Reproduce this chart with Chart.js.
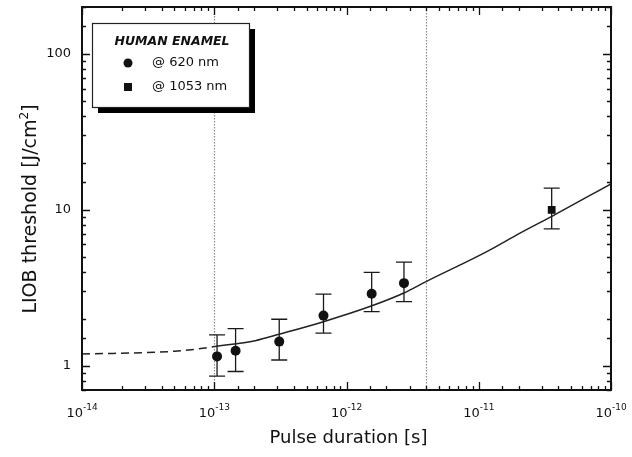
<!DOCTYPE html>
<html>
<head>
<meta charset="utf-8">
<script src="https://cdn.jsdelivr.net/npm/chart.js@4.4.0/dist/chart.umd.min.js"></script>
<style>
html, body { margin: 0; padding: 0; background: #fff; }
#wrap { width: 632px; height: 457px; position: relative; }
</style>
</head>
<body>
<div id="wrap"><canvas id="myChart"></canvas></div>
<script>
// measured thresholds @ 620 nm (value, upper and lower end of error bar)
var pulse620 = [1.05e-13, 1.45e-13, 3.1e-13, 6.7e-13, 1.55e-12, 2.72e-12];
var thr620 = [1.15, 1.25, 1.43, 2.10, 2.90, 3.39];
var thr620Hi = [1.58, 1.73, 1.99, 2.88, 3.98, 4.62];
var thr620Lo = [0.86, 0.92, 1.09, 1.62, 2.23, 2.58];

// measured threshold @ 1053 nm
var pulse1053 = [3.56e-11];
var thr1053 = [10.0];
var thr1053Hi = [13.8];
var thr1053Lo = [7.55];

// fitted curve (dashed part is extrapolation)
var fitDashX = [1e-14, 5e-14, 8.5e-14, 1e-13];
var fitDashY = [1.19, 1.24, 1.30, 1.33];
var fitX = [1e-13, 2.04e-13, 3.14e-13, 6.7e-13, 1.5e-12, 2.69e-12, 4e-12, 1.15e-11, 2.05e-11, 3.66e-11, 1e-10];
var fitY = [1.33, 1.45, 1.60, 1.92, 2.40, 2.92, 3.47, 5.4, 7.1, 9.2, 14.7];

// dotted vertical markers
var markLines = [1e-13, 4e-12];

// labelled decades
var xDecades = [-14, -13, -12, -11, -10];
var yDecades = [0, 1, 2];

var ctx = document.getElementById('myChart');
var myChart;
var FONT = '"DejaVu Sans", "Liberation Sans", sans-serif';

function toPoints(xs, ys){
    var out = [];
    for(var i = 0; i < xs.length; i++){
        out.push({x: xs[i], y: ys[i]});
    }
    return out;
}

function isDecade(v){
    var l = Math.log10(v);
    return Math.abs(l - Math.round(l)) < 1e-6;
}

function drawErrors(c, xs, ys, px, hi, lo){
    for(var i = 0; i < px.length; i++){
        var x = xs.getPixelForValue(px[i]);
        var yh = ys.getPixelForValue(hi[i]);
        var yl = ys.getPixelForValue(lo[i]);
        c.beginPath();
        c.moveTo(x, yh); c.lineTo(x, yl);
        c.moveTo(x - 8, yh); c.lineTo(x + 8, yh);
        c.moveTo(x - 8, yl); c.lineTo(x + 8, yl);
        c.stroke();
    }
}

var paperPlugin = {
    id: 'paper',
    beforeDatasetsDraw: function(chart){
        var c = chart.ctx, xs = chart.scales.x, ys = chart.scales.y, a = chart.chartArea;
        c.save();
        c.strokeStyle = '#8c8c8c';
        c.lineWidth = 1.2;
        c.setLineDash([1.5, 1.5]);
        markLines.forEach(function(v){
            var px = Math.round(xs.getPixelForValue(v)) + 0.5;
            c.beginPath();
            c.moveTo(px, a.top);
            c.lineTo(px, a.bottom);
            c.stroke();
        });
        c.setLineDash([]);
        c.strokeStyle = '#1a1a1a';
        c.lineWidth = 1.3;
        drawErrors(c, xs, ys, pulse620, thr620Hi, thr620Lo);
        drawErrors(c, xs, ys, pulse1053, thr1053Hi, thr1053Lo);
        c.restore();
    },
    afterDraw: function(chart){
        var c = chart.ctx, xs = chart.scales.x, ys = chart.scales.y, a = chart.chartArea;
        c.save();
        // frame
        c.strokeStyle = '#111';
        c.lineWidth = 2;
        c.strokeRect(a.left, a.top, a.right - a.left, a.bottom - a.top);
        // inward ticks on all four sides
        c.lineWidth = 1.3;
        c.beginPath();
        xs.ticks.forEach(function(t){
            var px = Math.round(xs.getPixelForValue(t.value)) + 0.5;
            var len = isDecade(t.value) ? 8 : 4;
            c.moveTo(px, a.bottom); c.lineTo(px, a.bottom - len);
            c.moveTo(px, a.top); c.lineTo(px, a.top + len);
        });
        ys.ticks.forEach(function(t){
            var py = Math.round(ys.getPixelForValue(t.value)) + 0.5;
            var len = isDecade(t.value) ? 8 : 4;
            c.moveTo(a.left, py); c.lineTo(a.left + len, py);
            c.moveTo(a.right, py); c.lineTo(a.right - len, py);
        });
        c.stroke();

        // tick labels
        c.fillStyle = '#111';
        c.textBaseline = 'alphabetic';
        xDecades.forEach(function(e){
            var px = xs.getPixelForValue(Math.pow(10, e));
            c.font = '13px ' + FONT;
            var w1 = c.measureText('10').width;
            c.font = '9px ' + FONT;
            var w2 = c.measureText('-' + Math.abs(e)).width;
            var x0 = px - (w1 + w2) / 2;
            c.font = '13px ' + FONT;
            c.textAlign = 'left';
            c.fillText('10', x0, a.bottom + 27);
            c.font = '9px ' + FONT;
            c.fillText('-' + Math.abs(e), x0 + w1, a.bottom + 20);
        });
        c.font = '13px ' + FONT;
        c.textAlign = 'right';
        c.textBaseline = 'middle';
        yDecades.forEach(function(e){
            var py = ys.getPixelForValue(Math.pow(10, e));
            c.fillText(String(Math.pow(10, e)), a.left - 11, py);
        });

        // axis titles
        c.font = '18px ' + FONT;
        c.textAlign = 'center';
        c.textBaseline = 'alphabetic';
        c.fillText('Pulse duration [s]', (a.left + a.right) / 2 + 2, 443);

        c.translate(36, 209);
        c.rotate(-Math.PI / 2);
        c.font = '19px ' + FONT;
        var t1 = 'LIOB threshold [J/cm', t3 = ']';
        var w1 = c.measureText(t1).width, w3 = c.measureText(t3).width;
        c.font = '12px ' + FONT;
        var w2 = c.measureText('2').width;
        var sx = -(w1 + w2 + w3) / 2;
        c.textAlign = 'left';
        c.font = '19px ' + FONT;
        c.fillText(t1, sx, 0);
        c.fillText(t3, sx + w1 + w2, 0);
        c.font = '12px ' + FONT;
        c.fillText('2', sx + w1, -8);
        c.setTransform(1, 0, 0, 1, 0, 0);

        // legend box with drop shadow
        var bx = 92, by = 23, bw = 157, bh = 84;
        c.fillStyle = '#000';
        c.fillRect(bx + 6, by + 6, bw, bh);
        c.fillStyle = '#fff';
        c.fillRect(bx, by, bw, bh);
        c.strokeStyle = '#222';
        c.lineWidth = 1.2;
        c.strokeRect(bx + 0.5, by + 0.5, bw, bh);
        c.fillStyle = '#111';
        c.font = 'bold italic 12.5px ' + FONT;
        c.textAlign = 'center';
        c.textBaseline = 'middle';
        c.fillText('HUMAN ENAMEL', 172, 42);
        c.font = '13px ' + FONT;
        c.textAlign = 'left';
        c.beginPath();
        c.arc(128, 63, 4.5, 0, Math.PI * 2);
        c.fill();
        c.fillText(chart.data.datasets[0].label, 152, 63);
        c.fillRect(124, 83, 8, 8);
        c.fillText(chart.data.datasets[1].label, 152, 87);
        c.restore();
    }
};

getChart();

function getChart(){
    myChart = new Chart(ctx, {
        type: 'scatter',
        data: {
            datasets: [{
                label: '@ 620 nm',
                data: toPoints(pulse620, thr620),
                pointStyle: 'circle',
                pointRadius: 5,
                backgroundColor: '#111',
                borderColor: '#111',
                borderWidth: 0
            }, {
                label: '@ 1053 nm',
                data: toPoints(pulse1053, thr1053),
                pointStyle: 'rect',
                pointRadius: 5.5,
                backgroundColor: '#111',
                borderColor: '#111',
                borderWidth: 0
            }, {
                label: 'fit',
                data: toPoints(fitX, fitY),
                showLine: true,
                pointRadius: 0,
                cubicInterpolationMode: 'monotone',
                borderColor: '#222',
                borderWidth: 1.5,
                fill: false
            }, {
                label: 'fit (extrapolated)',
                data: toPoints(fitDashX, fitDashY),
                showLine: true,
                pointRadius: 0,
                cubicInterpolationMode: 'monotone',
                borderColor: '#222',
                borderWidth: 1.5,
                borderDash: [8, 5],
                fill: false
            }]
        },
        options: {
            responsive: true,
            maintainAspectRatio: false,
            animation: false,
            layout: { padding: { left: 82, right: 21, top: 7, bottom: 67 } },
            plugins: { legend: { display: false }, tooltip: { enabled: false } },
            scales: {
                x: {
                    type: 'logarithmic',
                    min: 1e-14,
                    max: 1e-10,
                    ticks: { display: false },
                    grid: { display: false },
                    border: { display: false },
                    afterFit: function(s){ s.height = 0; }
                },
                y: {
                    type: 'logarithmic',
                    min: 0.7,
                    max: 200,
                    ticks: { display: false },
                    grid: { display: false },
                    border: { display: false },
                    afterFit: function(s){ s.width = 0; }
                }
            }
        },
        plugins: [paperPlugin]
    });
}
</script>
</body>
</html>
